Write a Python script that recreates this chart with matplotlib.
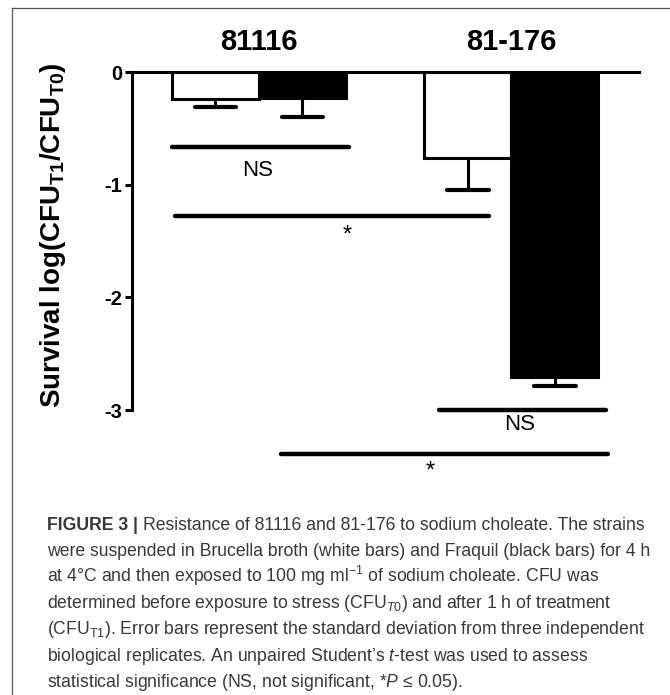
import matplotlib
matplotlib.use("Agg")
import matplotlib.pyplot as plt
import numpy as np

plt.rcParams['font.family'] = ['Liberation Sans', 'DejaVu Sans']
plt.rcParams['mathtext.fontset'] = 'custom'
plt.rcParams['mathtext.rm'] = 'Liberation Sans'
plt.rcParams['mathtext.it'] = 'Liberation Sans:italic'
plt.rcParams['mathtext.bf'] = 'Liberation Sans:bold'

# ---- data ----
strains = ['81116', '81-176']
media = ['Brucella broth', 'Fraquil']
survival_brucella = [-0.24, -0.76]
survival_fraquil = [-0.23, -2.71]
sd_brucella = [0.07, 0.29]
sd_fraquil = [0.17, 0.08]
y_ticks = [0, -1, -2, -3]
y_tick_labels = ['0', '-1', '-2', '-3']
comparisons_labels = ['NS', '*', 'NS', '*']
comparisons_y = [-0.67, -1.28, -3.0, -3.39]

# ---- figure ----
W, H = 670, 695
fig = plt.figure(figsize=(W / 100, H / 100), dpi=100)
ax = fig.add_axes([132 / W, 1 - 410 / H, (639 - 132) / W, (410 - 72) / H])

group_centers = np.array([1.46, 4.36])
bw = 1.0
x_white = group_centers - bw / 2
x_black = group_centers + bw / 2

LW = 2.2
ax.bar(x_white, survival_brucella, width=bw, color='white', edgecolor='black',
       linewidth=LW, zorder=2)
ax.bar(x_black, survival_fraquil, width=bw, color='black', edgecolor='black',
       linewidth=LW, zorder=2)

# error bars (downward only)
for xs, vals, sds in [(x_white, survival_brucella, sd_brucella),
                      (x_black, survival_fraquil, sd_fraquil)]:
    for x, v, s in zip(xs, vals, sds):
        ax.plot([x, x], [v, v - s], color='black', lw=LW, zorder=1,
                solid_capstyle='butt')
        ax.plot([x - 0.24, x + 0.24], [v - s, v - s], color='black', lw=3.0,
                solid_capstyle='round', zorder=3)

# significance lines
comp_x = [(0.46, 2.49), (0.49, 4.11), (3.53, 5.45), (1.71, 5.47)]
text_pos = [(1.44, -0.87), (2.47, -1.45), (4.46, -3.13), (3.43, -3.55)]
for (x1, x2), y, lab, (tx, ty) in zip(comp_x, comparisons_y, comparisons_labels, text_pos):
    ax.plot([x1, x2], [y, y], color='black', lw=3.2, solid_capstyle='round',
            clip_on=False, zorder=3)
    ax.text(tx, ty, lab, ha='center', va='center', fontsize=16 if lab == 'NS' else 17,
            clip_on=False)

ax.set_xlim(0, 5.83)
ax.set_ylim(-3, 0)
ax.spines['bottom'].set_visible(False)
ax.spines['right'].set_visible(False)
ax.spines['top'].set_linewidth(LW)
ax.spines['left'].set_linewidth(LW)
ax.set_xticks([])
ax.set_yticks(y_ticks)
ax.set_yticklabels(y_tick_labels, fontsize=14.5, fontweight='bold')
ax.tick_params(axis='y', direction='out', length=5, width=LW, pad=2)

for gx, s in zip(group_centers, strains):
    ax.text(gx, 1.089, s, transform=ax.get_xaxis_transform(), ha='center',
            va='center', fontsize=21, fontweight='bold')

fig.text(53 / W, 1 - 235 / H, r'Survival log(CFU$_{\mathbf{T1}}$/CFU$_{\mathbf{T0}}$)',
         rotation=90, ha='center', va='center', fontsize=20, fontweight='bold')

# frame lines
fig.add_artist(plt.Line2D([12 / W, 1], [1 - 8 / H, 1 - 8 / H], color='#555555', lw=0.9))
fig.add_artist(plt.Line2D([12 / W, 12 / W], [0, 1 - 8 / H], color='#555555', lw=0.9))

# caption
cap_color = '#383838'
cap_size = 12.7
x0 = 47 / W
lines = [
    'Resistance of 81116 and 81-176 to sodium choleate. The strains',
    'were suspended in Brucella broth (white bars) and Fraquil (black bars) for 4 h',
    'at 4°C and then exposed to 100 mg ml$^{-1}$ of sodium choleate. CFU was',
    'determined before exposure to stress (CFU$_{T0}$) and after 1 h of treatment',
    '(CFU$_{\\mathrm{T1}}$). Error bars represent the standard deviation from three independent',
    'biological replicates. An unpaired Student’s $t$-test was used to assess',
    'statistical significance (NS, not significant, *$P$ ≤ 0.05).',
]
line_y = [525, 551, 577, 603, 629, 656, 682]
renderer = fig.canvas.get_renderer()
t0 = fig.text(x0, 1 - (line_y[0] + 5) / H, 'FIGURE 3 | ', fontsize=cap_size,
              fontweight='bold', color=cap_color, va='baseline')
bb = t0.get_window_extent(renderer)
for i, (ln, yy) in enumerate(zip(lines, line_y)):
    xx = x0 if i > 0 else bb.x1 / W
    fig.text(xx, 1 - (yy + 5) / H, ln, fontsize=cap_size, color=cap_color,
             va='baseline')

fig.savefig('out.png', dpi=100)
